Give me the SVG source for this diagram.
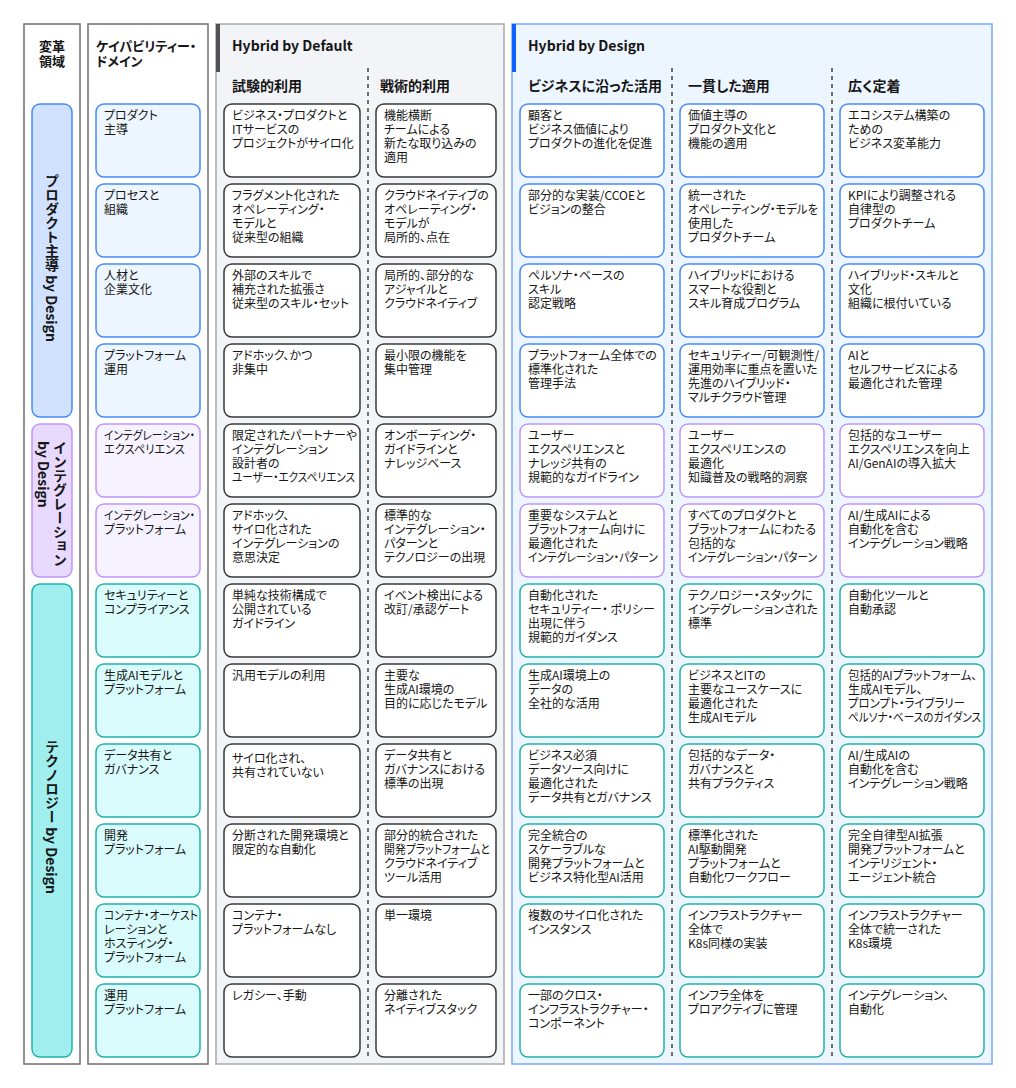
<svg xmlns="http://www.w3.org/2000/svg" width="1016" height="1088" viewBox="0 0 1016 1088">
<style>
text{font-family:"Noto Sans CJK JP","Noto Sans",sans-serif;fill:#161616;font-feature-settings:"palt";}
.t{font-size:12px;}
.hd{font-size:13px;font-weight:700;}
.ph{font-size:14px;font-weight:700;}
.sh{font-size:14px;font-weight:700;}
.vt{font-size:14px;font-weight:700;writing-mode:vertical-rl;}
.frame{fill:#ffffff;stroke:#6f6f6f;stroke-width:1.5;}
.pdef{fill:#f2f4f8;stroke:#a8a8a8;stroke-width:1.5;}
.pdes{fill:#edf5ff;stroke:#78a9ff;stroke-width:1.5;}
.cdef{fill:#ffffff;stroke:#393939;stroke-width:1.5;}
.cp{fill:#ffffff;stroke:#4589ff;stroke-width:1.5;}
.ci{fill:#ffffff;stroke:#be95ff;stroke-width:1.5;}
.ct{fill:#ffffff;stroke:#20b2aa;stroke-width:1.5;}
.lp{fill:#edf5ff;stroke:#4589ff;stroke-width:1.5;}
.li{fill:#f6f2ff;stroke:#be95ff;stroke-width:1.5;}
.lt{fill:#d9fbfb;stroke:#20b2aa;stroke-width:1.5;}
.bp{fill:#d0e2ff;stroke:#4589ff;stroke-width:1.5;}
.bi{fill:#e8daff;stroke:#be95ff;stroke-width:1.5;}
.bt{fill:#a0eeee;stroke:#20b2aa;stroke-width:1.5;}
.sep{stroke:#6f6f6f;stroke-width:2;stroke-dasharray:4 4;fill:none;}
</style>

<g id="frames">
<rect class="frame" x="24" y="24" width="56" height="1040"/>
<rect class="frame" x="88" y="24" width="120" height="1040"/>
<rect class="pdef" x="216" y="24" width="288" height="1040"/>
<rect x="216" y="24" width="4" height="48" fill="#525252"/>
<rect class="pdes" x="512" y="24" width="480" height="1040"/>
<rect x="512" y="24" width="4" height="48" fill="#0f62fe"/>
</g>

<g id="headers">
<text class="hd" x="52" y="51" text-anchor="middle">変革</text>
<text class="hd" x="52" y="66" text-anchor="middle">領域</text>
<text class="hd" x="96" y="51">ケイパビリティー・</text>
<text class="hd" x="96" y="66">ドメイン</text>
<text class="ph" x="232" y="51">Hybrid by Default</text>
<text class="ph" x="528" y="51">Hybrid by Design</text>
<text class="sh" x="232" y="91">試験的利用</text>
<text class="sh" x="380" y="91">戦術的利用</text>
<text class="sh" x="528" y="91">ビジネスに沿った活用</text>
<text class="sh" x="688" y="91">一貫した適用</text>
<text class="sh" x="848" y="91">広く定着</text>
</g>

<g id="separators">
<line class="sep" x1="368" y1="68" x2="368" y2="1058"/>
<line class="sep" x1="672" y1="68" x2="672" y2="1058"/>
<line class="sep" x1="832" y1="68" x2="832" y2="1058"/>
</g>

<g id="domain-product">
<rect class="bp" x="32" y="104" width="40" height="313" rx="8"/>
<text class="vt" x="52" y="258" text-anchor="middle">プロダクト主導 by Design</text>
</g>
<g id="domain-integration">
<rect class="bi" x="32" y="424" width="40" height="153" rx="8"/>
<text class="vt" x="60" y="441">インテグレーション</text>
<text class="vt" x="44" y="441">by Design</text>
</g>
<g id="domain-technology">
<rect class="bt" x="32" y="584" width="40" height="473" rx="8"/>
<text class="vt" x="52" y="817" text-anchor="middle">テクノロジー by Design</text>
</g>

<g id="cap-1"><rect class="lp" x="96" y="104" width="104" height="73" rx="8"/><text class="t" y="120"><tspan x="104">プロダクト</tspan><tspan x="104" dy="14">主導</tspan></text></g>
<g id="cap-2"><rect class="lp" x="96" y="184" width="104" height="73" rx="8"/><text class="t" y="200"><tspan x="104">プロセスと</tspan><tspan x="104" dy="14">組織</tspan></text></g>
<g id="cap-3"><rect class="lp" x="96" y="264" width="104" height="73" rx="8"/><text class="t" y="280"><tspan x="104">人材と</tspan><tspan x="104" dy="14">企業文化</tspan></text></g>
<g id="cap-4"><rect class="lp" x="96" y="344" width="104" height="73" rx="8"/><text class="t" y="360"><tspan x="104">プラットフォーム</tspan><tspan x="104" dy="14">運用</tspan></text></g>
<g id="cap-5"><rect class="li" x="96" y="424" width="104" height="73" rx="8"/><text class="t" x="104" y="440" textLength="91" lengthAdjust="spacingAndGlyphs">インテグレーション・</text><text class="t" x="104" y="454" textLength="81" lengthAdjust="spacingAndGlyphs">エクスペリエンス</text></g>
<g id="cap-6"><rect class="li" x="96" y="504" width="104" height="73" rx="8"/><text class="t" x="104" y="520" textLength="91" lengthAdjust="spacingAndGlyphs">インテグレーション・</text><text class="t" x="104" y="534">プラットフォーム</text></g>
<g id="cap-7"><rect class="lt" x="96" y="584" width="104" height="73" rx="8"/><text class="t" y="600"><tspan x="104">セキュリティーと</tspan><tspan x="104" dy="14">コンプライアンス</tspan></text></g>
<g id="cap-8"><rect class="lt" x="96" y="664" width="104" height="73" rx="8"/><text class="t" y="680"><tspan x="104">生成AIモデルと</tspan><tspan x="104" dy="14">プラットフォーム</tspan></text></g>
<g id="cap-9"><rect class="lt" x="96" y="744" width="104" height="73" rx="8"/><text class="t" y="760"><tspan x="104">データ共有と</tspan><tspan x="104" dy="14">ガバナンス</tspan></text></g>
<g id="cap-10"><rect class="lt" x="96" y="824" width="104" height="73" rx="8"/><text class="t" y="840"><tspan x="104">開発</tspan><tspan x="104" dy="14">プラットフォーム</tspan></text></g>
<g id="cap-11"><rect class="lt" x="96" y="904" width="104" height="73" rx="8"/><text class="t" x="104" y="920" textLength="94" lengthAdjust="spacingAndGlyphs">コンテナ・オーケスト</text><text class="t" y="934"><tspan x="104">レーションと</tspan><tspan x="104" dy="14">ホスティング・</tspan><tspan x="104" dy="14">プラットフォーム</tspan></text></g>
<g id="cap-12"><rect class="lt" x="96" y="984" width="104" height="73" rx="8"/><text class="t" y="1000"><tspan x="104">運用</tspan><tspan x="104" dy="14">プラットフォーム</tspan></text></g>

<g id="exp-1"><rect class="cdef" x="224" y="104" width="136" height="73" rx="8"/><text class="t" y="120"><tspan x="232">ビジネス・プロダクトと</tspan><tspan x="232" dy="14">ITサービスの</tspan><tspan x="232" dy="14">プロジェクトがサイロ化</tspan></text></g>
<g id="exp-2"><rect class="cdef" x="224" y="184" width="136" height="73" rx="8"/><text class="t" y="200"><tspan x="232">フラグメント化された</tspan><tspan x="232" dy="14">オペレーティング・</tspan><tspan x="232" dy="14">モデルと</tspan><tspan x="232" dy="14">従来型の組織</tspan></text></g>
<g id="exp-3"><rect class="cdef" x="224" y="264" width="136" height="73" rx="8"/><text class="t" y="280"><tspan x="232">外部のスキルで</tspan><tspan x="232" dy="14">補充された拡張さ</tspan><tspan x="232" dy="14">従来型のスキル・セット</tspan></text></g>
<g id="exp-4"><rect class="cdef" x="224" y="344" width="136" height="73" rx="8"/><text class="t" y="360"><tspan x="232">アドホック、かつ</tspan><tspan x="232" dy="14">非集中</tspan></text></g>
<g id="exp-5"><rect class="cdef" x="224" y="424" width="136" height="73" rx="8"/><text class="t" y="440"><tspan x="232">限定されたパートナーや</tspan><tspan x="232" dy="14">インテグレーション</tspan><tspan x="232" dy="14">設計者の</tspan></text><text class="t" x="232" y="482" textLength="123" lengthAdjust="spacingAndGlyphs">ユーザー・エクスペリエンス</text></g>
<g id="exp-6"><rect class="cdef" x="224" y="504" width="136" height="73" rx="8"/><text class="t" y="520"><tspan x="232">アドホック、</tspan><tspan x="232" dy="14">サイロ化された</tspan><tspan x="232" dy="14">インテグレーションの</tspan><tspan x="232" dy="14">意思決定</tspan></text></g>
<g id="exp-7"><rect class="cdef" x="224" y="584" width="136" height="73" rx="8"/><text class="t" y="600"><tspan x="232">単純な技術構成で</tspan><tspan x="232" dy="14">公開されている</tspan><tspan x="232" dy="14">ガイドライン</tspan></text></g>
<g id="exp-8"><rect class="cdef" x="224" y="664" width="136" height="73" rx="8"/><text class="t" x="232" y="680">汎用モデルの利用</text></g>
<g id="exp-9"><rect class="cdef" x="224" y="744" width="136" height="73" rx="8"/><text class="t" y="763"><tspan x="232">サイロ化され、</tspan><tspan x="232" dy="14">共有されていない</tspan></text></g>
<g id="exp-10"><rect class="cdef" x="224" y="824" width="136" height="73" rx="8"/><text class="t" y="840"><tspan x="232">分断された開発環境と</tspan><tspan x="232" dy="14">限定的な自動化</tspan></text></g>
<g id="exp-11"><rect class="cdef" x="224" y="904" width="136" height="73" rx="8"/><text class="t" y="920"><tspan x="232">コンテナ・</tspan><tspan x="232" dy="14">プラットフォームなし</tspan></text></g>
<g id="exp-12"><rect class="cdef" x="224" y="984" width="136" height="73" rx="8"/><text class="t" x="232" y="1000">レガシー、手動</text></g>

<g id="tac-1"><rect class="cdef" x="376" y="104" width="120" height="73" rx="8"/><text class="t" y="120"><tspan x="384">機能横断</tspan><tspan x="384" dy="14">チームによる</tspan><tspan x="384" dy="14">新たな取り込みの</tspan><tspan x="384" dy="14">適用</tspan></text></g>
<g id="tac-2"><rect class="cdef" x="376" y="184" width="120" height="73" rx="8"/><text class="t" y="200"><tspan x="384">クラウドネイティブの</tspan><tspan x="384" dy="14">オペレーティング・</tspan><tspan x="384" dy="14">モデルが</tspan><tspan x="384" dy="14">局所的、点在</tspan></text></g>
<g id="tac-3"><rect class="cdef" x="376" y="264" width="120" height="73" rx="8"/><text class="t" y="280"><tspan x="384">局所的、部分的な</tspan><tspan x="384" dy="14">アジャイルと</tspan><tspan x="384" dy="14">クラウドネイティブ</tspan></text></g>
<g id="tac-4"><rect class="cdef" x="376" y="344" width="120" height="73" rx="8"/><text class="t" y="360"><tspan x="384">最小限の機能を</tspan><tspan x="384" dy="14">集中管理</tspan></text></g>
<g id="tac-5"><rect class="cdef" x="376" y="424" width="120" height="73" rx="8"/><text class="t" y="440"><tspan x="384">オンボーディング・</tspan><tspan x="384" dy="14">ガイドラインと</tspan><tspan x="384" dy="14">ナレッジベース</tspan></text></g>
<g id="tac-6"><rect class="cdef" x="376" y="504" width="120" height="73" rx="8"/><text class="t" y="520"><tspan x="384">標準的な</tspan><tspan x="384" dy="14">インテグレーション・</tspan><tspan x="384" dy="14">パターンと</tspan><tspan x="384" dy="14">テクノロジーの出現</tspan></text></g>
<g id="tac-7"><rect class="cdef" x="376" y="584" width="120" height="73" rx="8"/><text class="t" y="600"><tspan x="384">イベント検出による</tspan><tspan x="384" dy="14">改訂/承認ゲート</tspan></text></g>
<g id="tac-8"><rect class="cdef" x="376" y="664" width="120" height="73" rx="8"/><text class="t" y="680"><tspan x="384">主要な</tspan><tspan x="384" dy="14">生成AI環境の</tspan><tspan x="384" dy="14">目的に応じたモデル</tspan></text></g>
<g id="tac-9"><rect class="cdef" x="376" y="744" width="120" height="73" rx="8"/><text class="t" y="760"><tspan x="384">データ共有と</tspan><tspan x="384" dy="14">ガバナンスにおける</tspan><tspan x="384" dy="14">標準の出現</tspan></text></g>
<g id="tac-10"><rect class="cdef" x="376" y="824" width="120" height="73" rx="8"/><text class="t" x="384" y="840">部分的統合された</text><text class="t" x="384" y="854" textLength="106" lengthAdjust="spacingAndGlyphs">開発プラットフォームと</text><text class="t" y="868"><tspan x="384">クラウドネイティブ</tspan><tspan x="384" dy="14">ツール活用</tspan></text></g>
<g id="tac-11"><rect class="cdef" x="376" y="904" width="120" height="73" rx="8"/><text class="t" x="384" y="920">単一環境</text></g>
<g id="tac-12"><rect class="cdef" x="376" y="984" width="120" height="73" rx="8"/><text class="t" y="1000"><tspan x="384">分離された</tspan><tspan x="384" dy="14">ネイティブスタック</tspan></text></g>

<g id="biz-1"><rect class="cp" x="520" y="104" width="144" height="73" rx="8"/><text class="t" y="120"><tspan x="528">顧客と</tspan><tspan x="528" dy="14">ビジネス価値により</tspan><tspan x="528" dy="14">プロダクトの進化を促進</tspan></text></g>
<g id="biz-2"><rect class="cp" x="520" y="184" width="144" height="73" rx="8"/><text class="t" y="200"><tspan x="528">部分的な実装/CCOEと</tspan><tspan x="528" dy="14">ビジョンの整合</tspan></text></g>
<g id="biz-3"><rect class="cp" x="520" y="264" width="144" height="73" rx="8"/><text class="t" y="280"><tspan x="528">ペルソナ・ベースの</tspan><tspan x="528" dy="14">スキル</tspan><tspan x="528" dy="14">認定戦略</tspan></text></g>
<g id="biz-4"><rect class="cp" x="520" y="344" width="144" height="73" rx="8"/><text class="t" y="360"><tspan x="528">プラットフォーム全体での</tspan><tspan x="528" dy="14">標準化された</tspan><tspan x="528" dy="14">管理手法</tspan></text></g>
<g id="biz-5"><rect class="ci" x="520" y="424" width="144" height="73" rx="8"/><text class="t" y="440"><tspan x="528">ユーザー</tspan><tspan x="528" dy="14">エクスペリエンスと</tspan><tspan x="528" dy="14">ナレッジ共有の</tspan><tspan x="528" dy="14">規範的なガイドライン</tspan></text></g>
<g id="biz-6"><rect class="ci" x="520" y="504" width="144" height="73" rx="8"/><text class="t" y="520"><tspan x="528">重要なシステムと</tspan><tspan x="528" dy="14">プラットフォーム向けに</tspan><tspan x="528" dy="14">最適化された</tspan></text><text class="t" x="528" y="562" textLength="130" lengthAdjust="spacingAndGlyphs">インテグレーション・パターン</text></g>
<g id="biz-7"><rect class="ct" x="520" y="584" width="144" height="73" rx="8"/><text class="t" y="600"><tspan x="528">自動化された</tspan><tspan x="528" dy="14">セキュリティー・ ポリシー</tspan><tspan x="528" dy="14">出現に伴う</tspan><tspan x="528" dy="14">規範的ガイダンス</tspan></text></g>
<g id="biz-8"><rect class="ct" x="520" y="664" width="144" height="73" rx="8"/><text class="t" y="680"><tspan x="528">生成AI環境上の</tspan><tspan x="528" dy="14">データの</tspan><tspan x="528" dy="14">全社的な活用</tspan></text></g>
<g id="biz-9"><rect class="ct" x="520" y="744" width="144" height="73" rx="8"/><text class="t" y="760"><tspan x="528">ビジネス必須</tspan><tspan x="528" dy="14">データソース向けに</tspan><tspan x="528" dy="14">最適化された</tspan><tspan x="528" dy="14">データ共有とガバナンス</tspan></text></g>
<g id="biz-10"><rect class="ct" x="520" y="824" width="144" height="73" rx="8"/><text class="t" y="840"><tspan x="528">完全統合の</tspan><tspan x="528" dy="14">スケーラブルな</tspan><tspan x="528" dy="14">開発プラットフォームと</tspan><tspan x="528" dy="14">ビジネス特化型AI活用</tspan></text></g>
<g id="biz-11"><rect class="ct" x="520" y="904" width="144" height="73" rx="8"/><text class="t" y="920"><tspan x="528">複数のサイロ化された</tspan><tspan x="528" dy="14">インスタンス</tspan></text></g>
<g id="biz-12"><rect class="ct" x="520" y="984" width="144" height="73" rx="8"/><text class="t" y="1000"><tspan x="528">一部のクロス・</tspan><tspan x="528" dy="14">インフラストラクチャー・</tspan><tspan x="528" dy="14">コンポーネント</tspan></text></g>

<g id="con-1"><rect class="cp" x="680" y="104" width="144" height="73" rx="8"/><text class="t" y="120"><tspan x="688">価値主導の</tspan><tspan x="688" dy="14">プロダクト文化と</tspan><tspan x="688" dy="14">機能の適用</tspan></text></g>
<g id="con-2"><rect class="cp" x="680" y="184" width="144" height="73" rx="8"/><text class="t" x="688" y="200">統一された</text><text class="t" x="688" y="214" textLength="130" lengthAdjust="spacingAndGlyphs">オペレーティング・モデルを</text><text class="t" y="228"><tspan x="688">使用した</tspan><tspan x="688" dy="14">プロダクトチーム</tspan></text></g>
<g id="con-3"><rect class="cp" x="680" y="264" width="144" height="73" rx="8"/><text class="t" y="280"><tspan x="688">ハイブリッドにおける</tspan><tspan x="688" dy="14">スマートな役割と</tspan><tspan x="688" dy="14">スキル育成プログラム</tspan></text></g>
<g id="con-4"><rect class="cp" x="680" y="344" width="144" height="73" rx="8"/><text class="t" y="360"><tspan x="688">セキュリティー/可観測性/</tspan><tspan x="688" dy="14">運用効率に重点を置いた</tspan><tspan x="688" dy="14">先進のハイブリッド・</tspan><tspan x="688" dy="14">マルチクラウド管理</tspan></text></g>
<g id="con-5"><rect class="ci" x="680" y="424" width="144" height="73" rx="8"/><text class="t" y="440"><tspan x="688">ユーザー</tspan><tspan x="688" dy="14">エクスペリエンスの</tspan><tspan x="688" dy="14">最適化</tspan><tspan x="688" dy="14">知識普及の戦略的洞察</tspan></text></g>
<g id="con-6"><rect class="ci" x="680" y="504" width="144" height="73" rx="8"/><text class="t" y="520"><tspan x="688">すべてのプロダクトと</tspan><tspan x="688" dy="14">プラットフォームにわたる</tspan><tspan x="688" dy="14">包括的な</tspan></text><text class="t" x="688" y="562" textLength="129" lengthAdjust="spacingAndGlyphs">インテグレーション・パターン</text></g>
<g id="con-7"><rect class="ct" x="680" y="584" width="144" height="73" rx="8"/><text class="t" y="600"><tspan x="688">テクノロジー・スタックに</tspan><tspan x="688" dy="14">インテグレーションされた</tspan><tspan x="688" dy="14">標準</tspan></text></g>
<g id="con-8"><rect class="ct" x="680" y="664" width="144" height="73" rx="8"/><text class="t" y="680"><tspan x="688">ビジネスとITの</tspan><tspan x="688" dy="14">主要なユースケースに</tspan><tspan x="688" dy="14">最適化された</tspan><tspan x="688" dy="14">生成AIモデル</tspan></text></g>
<g id="con-9"><rect class="ct" x="680" y="744" width="144" height="73" rx="8"/><text class="t" y="760"><tspan x="688">包括的なデータ・</tspan><tspan x="688" dy="14">ガバナンスと</tspan><tspan x="688" dy="14">共有プラクティス</tspan></text></g>
<g id="con-10"><rect class="ct" x="680" y="824" width="144" height="73" rx="8"/><text class="t" y="840"><tspan x="688">標準化された</tspan><tspan x="688" dy="14">AI駆動開発</tspan><tspan x="688" dy="14">プラットフォームと</tspan><tspan x="688" dy="14">自動化ワークフロー</tspan></text></g>
<g id="con-11"><rect class="ct" x="680" y="904" width="144" height="73" rx="8"/><text class="t" y="920"><tspan x="688">インフラストラクチャー</tspan><tspan x="688" dy="14">全体で</tspan><tspan x="688" dy="14">K8s同様の実装</tspan></text></g>
<g id="con-12"><rect class="ct" x="680" y="984" width="144" height="73" rx="8"/><text class="t" y="1000"><tspan x="688">インフラ全体を</tspan><tspan x="688" dy="14">プロアクティブに管理</tspan></text></g>

<g id="wide-1"><rect class="cp" x="840" y="104" width="144" height="73" rx="8"/><text class="t" y="120"><tspan x="848">エコシステム構築の</tspan><tspan x="848" dy="14">ための</tspan><tspan x="848" dy="14">ビジネス変革能力</tspan></text></g>
<g id="wide-2"><rect class="cp" x="840" y="184" width="144" height="73" rx="8"/><text class="t" y="200"><tspan x="848">KPIにより調整される</tspan><tspan x="848" dy="14">自律型の</tspan><tspan x="848" dy="14">プロダクトチーム</tspan></text></g>
<g id="wide-3"><rect class="cp" x="840" y="264" width="144" height="73" rx="8"/><text class="t" y="280"><tspan x="848">ハイブリッド・スキルと</tspan><tspan x="848" dy="14">文化</tspan><tspan x="848" dy="14">組織に根付いている</tspan></text></g>
<g id="wide-4"><rect class="cp" x="840" y="344" width="144" height="73" rx="8"/><text class="t" y="360"><tspan x="848">AIと</tspan><tspan x="848" dy="14">セルフサービスによる</tspan><tspan x="848" dy="14">最適化された管理</tspan></text></g>
<g id="wide-5"><rect class="ci" x="840" y="424" width="144" height="73" rx="8"/><text class="t" y="440"><tspan x="848">包括的なユーザー</tspan><tspan x="848" dy="14">エクスペリエンスを向上</tspan><tspan x="848" dy="14">AI/GenAIの導入拡大</tspan></text></g>
<g id="wide-6"><rect class="ci" x="840" y="504" width="144" height="73" rx="8"/><text class="t" y="520"><tspan x="848">AI/生成AIによる</tspan><tspan x="848" dy="14">自動化を含む</tspan><tspan x="848" dy="14">インテグレーション戦略</tspan></text></g>
<g id="wide-7"><rect class="ct" x="840" y="584" width="144" height="73" rx="8"/><text class="t" y="600"><tspan x="848">自動化ツールと</tspan><tspan x="848" dy="14">自動承認</tspan></text></g>
<g id="wide-8"><rect class="ct" x="840" y="664" width="144" height="73" rx="8"/><text class="t" x="848" y="680" textLength="129" lengthAdjust="spacingAndGlyphs">包括的AIプラットフォーム、</text><text class="t" x="848" y="694">生成AIモデル、</text><text class="t" x="848" y="708" textLength="117" lengthAdjust="spacingAndGlyphs">プロンプト・ライブラリー</text><text class="t" x="848" y="722" textLength="133" lengthAdjust="spacingAndGlyphs">ペルソナ・ベースのガイダンス</text></g>
<g id="wide-9"><rect class="ct" x="840" y="744" width="144" height="73" rx="8"/><text class="t" y="760"><tspan x="848">AI/生成AIの</tspan><tspan x="848" dy="14">自動化を含む</tspan><tspan x="848" dy="14">インテグレーション戦略</tspan></text></g>
<g id="wide-10"><rect class="ct" x="840" y="824" width="144" height="73" rx="8"/><text class="t" y="840"><tspan x="848">完全自律型AI拡張</tspan><tspan x="848" dy="14">開発プラットフォームと</tspan><tspan x="848" dy="14">インテリジェント・</tspan><tspan x="848" dy="14">エージェント統合</tspan></text></g>
<g id="wide-11"><rect class="ct" x="840" y="904" width="144" height="73" rx="8"/><text class="t" y="920"><tspan x="848">インフラストラクチャー</tspan><tspan x="848" dy="14">全体で統一された</tspan><tspan x="848" dy="14">K8s環境</tspan></text></g>
<g id="wide-12"><rect class="ct" x="840" y="984" width="144" height="73" rx="8"/><text class="t" y="1000"><tspan x="848">インテグレーション、</tspan><tspan x="848" dy="14">自動化</tspan></text></g>
</svg>
